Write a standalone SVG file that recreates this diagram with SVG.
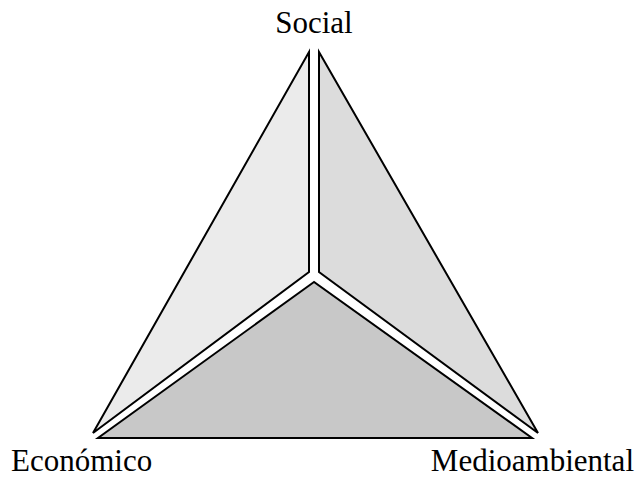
<svg xmlns="http://www.w3.org/2000/svg" width="637" height="477" viewBox="0 0 637 477">
<style>
.face{stroke:#000;stroke-width:2;stroke-linejoin:miter}
text{font-family:'Liberation Serif','Times New Roman','DejaVu Serif',serif;font-size:31px;fill:#000}
</style>
<rect width="637" height="477" fill="#fff"/>
<g id="face-social-economico"><polygon class="face" fill="#ebebeb" points="309,52 309,272 93,433"/></g>
<g id="face-social-medioambiental"><polygon class="face" fill="#dcdcdc" points="319,52 319,272 538,433"/></g>
<g id="face-economico-medioambiental"><polygon class="face" fill="#c8c8c8" points="314,282 98,438 532,438"/></g>
<g id="connectors"></g>
<g id="label-social"><text x="314" y="33" text-anchor="middle">Social</text></g>
<g id="label-economico"><text x="11" y="471">Económico</text></g>
<g id="label-medioambiental"><text x="634" y="471" text-anchor="end">Medioambiental</text></g>
</svg>
